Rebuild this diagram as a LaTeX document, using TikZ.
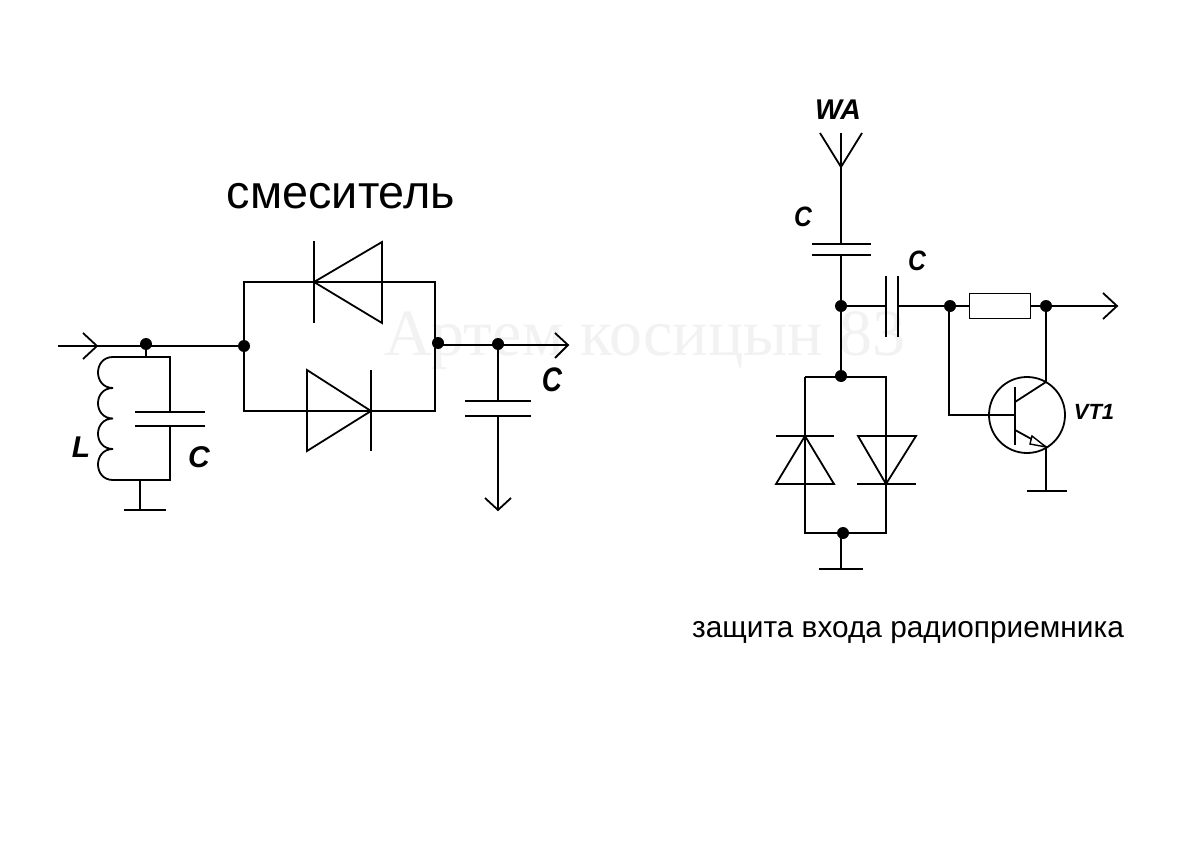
\documentclass[tikz,border=0pt]{standalone}
\usepackage{fontspec}
\setmainfont{Liberation Sans}
\newfontfamily\wmfont{Liberation Serif}
\usetikzlibrary{arrows.meta}
\tikzset{
  wire/.style={line width=1.8pt,black,line join=miter},
  plate/.style={line width=2.4pt,black},
  junction/.style={circle,fill=black,draw=none,inner sep=0pt,minimum size=12pt},
  desig/.style={font=\fontsize{30pt}{30pt}\selectfont\bfseries\itshape,inner sep=0pt},
  tallC/.style={font=\fontsize{34pt}{34pt}\selectfont\bfseries\itshape,inner sep=0pt,xscale=.82,transform shape},
  smallC/.style={font=\fontsize{28pt}{28pt}\selectfont\bfseries\itshape,inner sep=0pt,xscale=.88,transform shape},
  caption/.style={inner sep=0pt,text=black},
  watermark/.style={font=\wmfont\fontsize{66pt}{66pt}\selectfont,text=black!5,inner sep=0pt}
}
\begin{document}
\begin{tikzpicture}[x=1pt,y=-1pt]
\useasboundingbox[fill=white] (0,0) rectangle (1200,848);
\node[watermark] (wm) at (645,341) {Артем косицын 83};

% ---------- mixer ----------
\node[caption,font=\fontsize{46.8pt}{46.8pt}\selectfont] (t1) at (341,196) {смеситель};
\coordinate (inL) at (58,346);
\node[junction] (j1) at (146,344) {};
\node[junction] (j2) at (244,346) {};
\coordinate (jw1) at (146,346);
\coordinate (coilT) at (113,357);
\coordinate (coilB) at (113,480);
\coordinate (tapT) at (146,357);
\coordinate (capT) at (170,357);
\coordinate (capB) at (170,480);
\coordinate (gndL) at (140,480);
\coordinate (gndLb) at (140,510);

\draw[wire] (inL) -- (j2.center);
\draw[wire] (83,333) -- (97,346) -- (83,359);
\draw[wire] (jw1) -- (tapT);
\draw[wire] (coilT) -- (capT) -- (170,412);
\draw[wire] (170,426) -- (capB) -- (coilB);
\draw[plate] (135,412) -- (205,412);
\draw[plate] (135,426) -- (205,426);
\draw[wire] (coilT) .. controls (93,357) and (93,388) .. (113,388)
  .. controls (93,388) and (93,418.5) .. (113,418.5)
  .. controls (93,418.5) and (93,449) .. (113,449)
  .. controls (93,449) and (93,480) .. (coilB);
\draw[wire] (gndL) -- (gndLb);
\draw[wire] (124,510) -- (166,510);
\node[desig] (L1) at (81,447) {L};
\node[desig] (C1) at (199,457) {C};

\node[junction] (j3) at (438,343) {};
\node[junction] (j4) at (498,344) {};
\coordinate (tl) at (244,282);
\coordinate (tr) at (435,282);
\coordinate (bl) at (244,411);
\coordinate (br) at (435,411);
\draw[wire] (j2.center) -- (tl) -- (tr) -- (br) -- (bl) -- (j2.center);
\draw[wire] (314,241) -- (314,323);
\draw[wire] (382,242) -- (314,282) -- (382,323) -- cycle;
\draw[wire] (371,370) -- (371,451);
\draw[wire] (307,370) -- (371,411) -- (307,451) -- cycle;

\draw[wire] (435,345) -- (568,345);
\draw[wire] (555,333) -- (568,345) -- (555,358);
\node[tallC] (C2) at (552,380) {C};
\draw[wire] (j4.center) -- (498,401);
\draw[wire] (465,401) -- (531,401);
\draw[line width=2.8pt] (465,416) -- (531,416);
\coordinate (outD) at (498,510);
\draw[wire] (498,416) -- (outD);
\draw[wire] (485,498) -- (outD) -- (511,498);

% ---------- receiver input protection ----------
\node[desig,font=\fontsize{28.5pt}{28.5pt}\selectfont\bfseries\itshape] (WA) at (838,110) {WA};
\coordinate (ant) at (841,167);
\draw[wire] (820,133) -- (ant) -- (862,133);
\draw[wire] (841,133) -- (ant) -- (841,244);
\draw[plate] (812,244) -- (871,244);
\draw[wire] (812,255) -- (871,255);
\node[junction] (j5) at (841,306) {};
\node[junction] (j6) at (841,376) {};
\draw[wire] (841,255) -- (j5.center) -- (j6.center);
\node[smallC] (C3) at (803,217) {C};
\node[smallC] (C4) at (917,261) {C};

\draw[wire] (j5.center) -- (886,306);
\draw[wire] (886,276) -- (886,337);
\draw[wire] (898,276) -- (898,337);
\node[junction] (j7) at (950,306) {};
\node[draw,line width=1.8pt,minimum width=61pt,minimum height=25pt,inner sep=0pt] (R) at (1000,306) {};
\node[junction] (j8) at (1046,306) {};
\draw[wire] (898,306) -- (j7.center) -- (R.west);
\draw[wire] (R.east) -- (j8.center) -- (1117,306);
\draw[wire] (1103,293) -- (1117,306) -- (1103,319);

% transistor
\node[circle,draw,line width=1.8pt,minimum size=76pt,inner sep=0pt] (VT) at (1027,415) {};
\draw[wire] (949,306) -- (949,415) -- (1015,415);
\draw[line width=2.2pt] (1015,387) -- (1015,445);
\draw[wire] (j8.center) -- (1046,382) -- (1015,402);
\coordinate (etip) at (1046,447);
\draw[wire] (1015,430) -- (etip) -- (1046,491);
\draw[line width=1.4pt,fill=white] (etip) -- (1032,436) -- (1030,444) -- cycle;
\draw[wire] (1027,491) -- (1067,491);
\node[desig,font=\fontsize{22pt}{22pt}\selectfont\bfseries\itshape] (VTl) at (1094,412) {VT1};

% diodes
\coordinate (dl) at (805,377);
\coordinate (dr) at (886,377);
\coordinate (dbl) at (805,533);
\coordinate (dbr) at (886,533);
\node[junction] (j9) at (843,533) {};
\draw[wire] (dl) -- (dr) -- (dbr) -- (dbl) -- (dl);
\draw[wire] (776,436) -- (834,436);
\draw[wire] (805,436) -- (776,484) -- (834,484) -- cycle;
\draw[wire] (886,484) -- (858,436) -- (916,436) -- cycle;
\draw[plate] (857,484) -- (916,484);
\coordinate (gndD) at (841,569);
\draw[wire] (841,533) -- (gndD);
\draw[wire] (819,569) -- (863,569);

\node[caption,font=\fontsize{29.8pt}{29.8pt}\selectfont] (t2) at (908,633) {защита входа радиоприемника};
\end{tikzpicture}
\end{document}
